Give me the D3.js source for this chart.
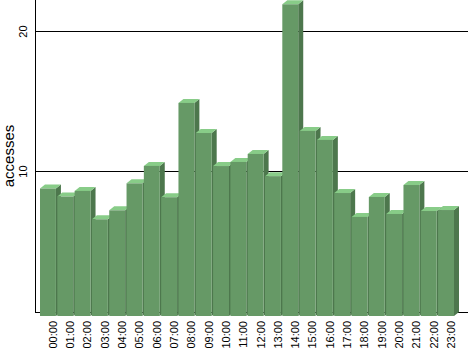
<!DOCTYPE html>
<html>
<head>
<meta charset="utf-8">
<script src="https://cdn.jsdelivr.net/npm/d3@7"></script>
<style>
  body { margin: 0; background: #fff; }
  text { font-family: "Liberation Sans", Arial, sans-serif; fill: #000; }
</style>
</head>
<body>
<div id="body"></div>
<script>
var hours = ["00:00","01:00","02:00","03:00","04:00","05:00","06:00","07:00","08:00","09:00","10:00","11:00",
             "12:00","13:00","14:00","15:00","16:00","17:00","18:00","19:00","20:00","21:00","22:00","23:00"];
var accesses = [9.07, 8.5, 8.9, 6.88, 7.52, 9.44, 10.68, 8.45, 15.16, 13.02, 10.67, 10.96,
                11.53, 9.95, 22.18, 13.17, 12.53, 8.75, 7.05, 8.47, 7.26, 9.32, 7.47, 7.54];
var yTicks = [10, 20];
var yLabel = "accesses";

var width = 468, height = 351;
var depthX = 5, depthY = 4;
var axisX = 35;

var svg = d3.select("#body").append("svg")
     .attr("width", width)
     .attr("height", height);

// front plane x scale
var x = d3.scaleBand()
     .domain(hours)
     .range([40, 454])
     .paddingInner(0.08)
     .paddingOuter(0);

// back plane y scale
var y = d3.scaleLinear()
     .domain([0, 22.2])
     .range([312, 0]);

// gridlines (back wall)
svg.append("g")
     .selectAll("line").data([0].concat(yTicks))
  .enter().append("line")
     .attr("x1", axisX)
     .attr("x2", width)
     .attr("y1", function(d) { return Math.round(y(d)) + 0.5; })
     .attr("y2", function(d) { return Math.round(y(d)) + 0.5; })
     .attr("stroke", "#000")
     .attr("shape-rendering", "crispEdges");

svg.append("line")
     .attr("x1", axisX + 0.5).attr("x2", axisX + 0.5)
     .attr("y1", 0).attr("y2", y(0) + 1)
     .attr("stroke", "#000")
     .attr("shape-rendering", "crispEdges");

// bars, left to right so each one covers the side of the previous
var bars = svg.append("g")
     .selectAll("g").data(hours.map(function(h, i) { return {hour: h, value: accesses[i]}; }))
  .enter().append("g");

var w = x.bandwidth();

bars.append("path")
     .attr("fill", "#4d774d")
     .attr("d", function(d) {
          var x1 = x(d.hour) + w, yt = y(d.value) + depthY, yb = y(0) + depthY;
          return "M" + x1 + "," + yt + "L" + (x1 + depthX) + "," + (yt - depthY) +
                 "L" + (x1 + depthX) + "," + (yb - depthY) + "L" + x1 + "," + yb + "Z";
     });

bars.append("path")
     .attr("fill", "#88cc88")
     .attr("d", function(d) {
          var x0 = x(d.hour), yt = y(d.value) + depthY;
          return "M" + x0 + "," + yt + "L" + (x0 + w) + "," + yt +
                 "L" + (x0 + w + depthX) + "," + (yt - depthY) + "L" + (x0 + depthX) + "," + (yt - depthY) + "Z";
     });

bars.append("rect")
     .attr("fill", "#669966")
     .attr("x", function(d) { return x(d.hour); })
     .attr("y", function(d) { return y(d.value) + depthY; })
     .attr("width", w)
     .attr("height", function(d) { return y(0) - y(d.value); });

// x tick labels, centred on the back of each bar
svg.append("g")
     .selectAll("text").data(hours)
  .enter().append("text")
     .attr("transform", function(d) { return "translate(" + (x(d) + w / 2 + depthX) + ",321) rotate(-90)"; })
     .attr("text-anchor", "end")
     .attr("dy", "0.35em")
     .style("font-size", "11px")
     .text(function(d) { return d; });

// y tick labels
svg.append("g")
     .selectAll("text").data(yTicks)
  .enter().append("text")
     .attr("transform", function(d) { return "translate(23," + (Math.round(y(d)) + 0.5) + ") rotate(-90)"; })
     .attr("text-anchor", "middle")
     .attr("dy", "0.35em")
     .style("font-size", "11px")
     .text(function(d) { return d; });

svg.append("text")
     .attr("transform", "translate(14," + (y(0) / 2) + ") rotate(-90)")
     .attr("text-anchor", "middle")
     .style("font-size", "15px")
     .text(yLabel);
</script>
</body>
</html>
